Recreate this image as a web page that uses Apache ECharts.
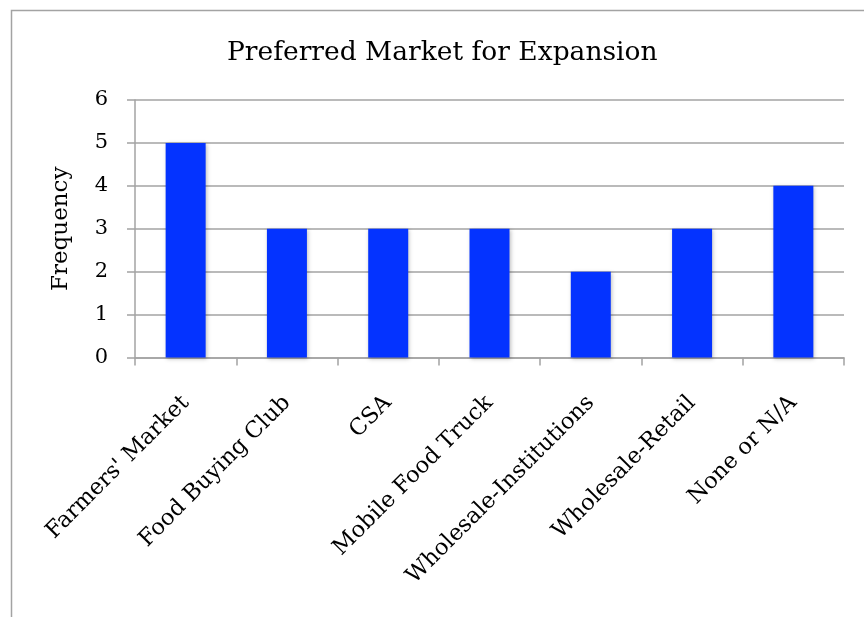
<!DOCTYPE html>
<html>
<head>
<meta charset="utf-8">
<script src="https://cdn.jsdelivr.net/npm/echarts@6/dist/echarts.min.js"></script>
<style>
  html, body { margin: 0; padding: 0; background: #fff; }
  #chart { width: 864px; height: 617px; }
</style>
</head>
<body>
<div id="chart"></div>
<script>
// Survey responses: preferred market channel for expansion
const categories = [
  "Farmers' Market",
  "Food Buying Club",
  "CSA",
  "Mobile Food Truck",
  "Wholesale-Institutions",
  "Wholesale-Retail",
  "None or N/A"
];
const frequency = [5, 3, 3, 3, 2, 3, 4];
const yTicks = [0, 1, 2, 3, 4, 5, 6];

const serif = "'DejaVu Serif', 'Liberation Serif', serif";
const gray = '#a3a3a3';

const chart = echarts.init(document.getElementById('chart'));
chart.setOption({
  animation: false,
  backgroundColor: '#ffffff',
  graphic: [{
    type: 'rect',
    left: 9, top: 8,
    shape: { width: 900, height: 700 },
    style: { fill: 'none', stroke: gray, lineWidth: 1.5 },
    silent: true
  }],
  title: {
    text: 'Preferred Market for Expansion',
    left: 222,
    top: 35,
    textStyle: { fontFamily: serif, fontSize: 26.5, fontWeight: 'normal', color: '#000' }
  },
  grid: { left: 135, right: 20, top: 100, bottom: 259.5, containLabel: false },
  xAxis: {
    type: 'category',
    data: categories,
    boundaryGap: true,
    axisLine: { show: true, lineStyle: { color: gray, width: 1.5 } },
    axisTick: { show: true, alignWithLabel: false, length: 8, lineStyle: { color: gray, width: 1.5 } },
    axisLabel: {
      rotate: 45,
      interval: 0,
      margin: 42,
      fontFamily: serif,
      fontSize: 22.5,
      color: '#000'
    }
  },
  yAxis: {
    type: 'value',
    min: yTicks[0],
    max: yTicks[yTicks.length - 1],
    interval: 1,
    name: 'Frequency',
    nameLocation: 'middle',
    nameRotate: 90,
    nameGap: 62,
    nameTextStyle: { fontFamily: serif, fontSize: 23, color: '#000' },
    axisLine: { show: true, lineStyle: { color: gray, width: 1.5 } },
    axisTick: { show: true, length: 8, lineStyle: { color: gray, width: 1.5 } },
    axisLabel: { margin: 27, fontFamily: serif, fontSize: 21, color: '#000' },
    splitLine: { show: true, lineStyle: { color: gray, width: 1.5 } }
  },
  series: [{
    type: 'bar',
    data: frequency,
    barWidth: 40,
    itemStyle: {
      color: '#0433ff',
      shadowBlur: 4,
      shadowColor: 'rgba(0,0,0,0.25)',
      shadowOffsetX: 1,
      shadowOffsetY: 1
    }
  }]
});
</script>
</body>
</html>
